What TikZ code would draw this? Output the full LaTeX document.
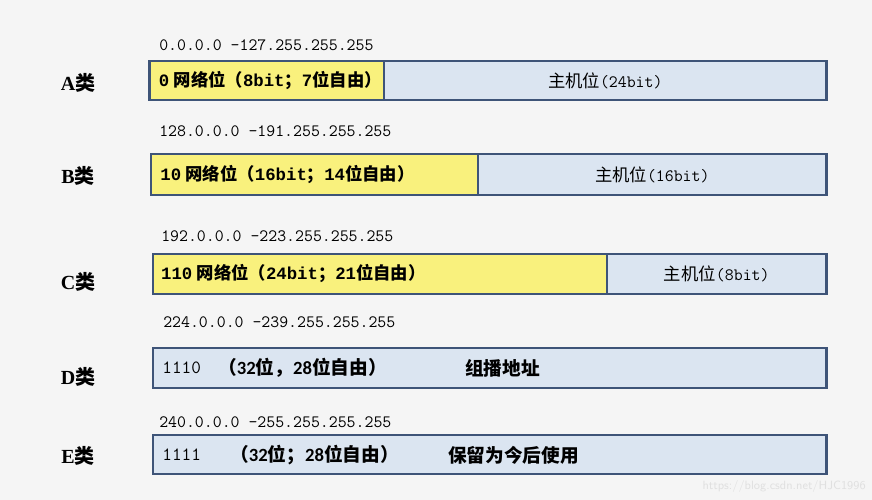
\documentclass[tikz,border=0pt]{standalone}
\usepackage{fontspec}
\setmainfont{Liberation Serif}
\newfontfamily\cjk{Noto Sans CJK SC}
\newfontfamily\bmono{Liberation Mono}
\newfontfamily\calib{Carlito}
\usetikzlibrary{positioning,fit}

\definecolor{bgcol}{HTML}{F5F5F5}
\definecolor{edgecol}{HTML}{3E5478}
\definecolor{netcol}{HTML}{F9F17D}
\definecolor{hostcol}{HTML}{DBE5F1}

\newcommand\zh[1]{{\cjk #1}}
\newcommand\la[1]{{\ttfamily #1}}
\newcommand\bl[1]{{\bmono #1}}
\newcommand\nb[1]{{\calib #1}}

\begin{document}
\begin{tikzpicture}[x=0.75pt,y=-0.75pt]
\tikzset{
    net/.style={rectangle, draw=edgecol, line width=2.2pt, fill=netcol, inner sep=0pt},
    host/.style={rectangle, draw=edgecol, line width=2.2pt, fill=hostcol, inner sep=0pt},
    cls/.style={inner sep=0pt, font=\fontsize{15}{18}\selectfont\bfseries},
    rangetxt/.style={inner sep=0pt, anchor=west, font=\fontsize{13}{15}\selectfont\ttfamily},
    btxt/.style={inner sep=0pt, font=\fontsize{13}{15}\selectfont\bfseries},
    htxt/.style={inner sep=0pt, font=\fontsize{13}{15}\selectfont},
    dtxt/.style={inner sep=0pt, anchor=west, font=\fontsize{14}{16}\selectfont\bfseries}
}
\fill[bgcol] (0,0) rectangle (872,500);
\useasboundingbox (0,0) rectangle (872,500);

% A
\node[rangetxt] (aRange) at (159,45) {0.0.0.0 -127.255.255.255};
\node[cls] (aLab) at (78,83) {A\zh{类}};
\node[net, fit={(149.5,61) (384,100)}] (aNet) {};
\node[host, fit={(384,61) (826.5,100)}] (aHost) {};
\node[btxt, right=8pt of aNet.west] (aNetTxt) {\bl{0} \zh{网络位（}\bl{8bit}\zh{；}\bl{7}\zh{位自由）}};
\node[htxt] (aHostTxt) at (aHost) {\zh{主机位}\la{(24bit)}};

% B
\node[rangetxt] (bRange) at (159,131) {128.0.0.0 -191.255.255.255};
\node[cls] (bLab) at (78,176) {B\zh{类}};
\node[net, fit={(151,154) (478,195)}] (bNet) {};
\node[host, fit={(478,154) (826.5,195)}] (bHost) {};
\node[btxt, right=8pt of bNet.west] (bNetTxt) {\bl{10} \zh{网络位（}\bl{16bit}\zh{；}\bl{14}\zh{位自由）}};
\node[htxt] (bHostTxt) at (bHost) {\zh{主机位}\la{(16bit)}};

% C
\node[rangetxt] (cRange) at (161,236) {192.0.0.0 -223.255.255.255};
\node[cls] (cLab) at (78,282) {C\zh{类}};
\node[net, fit={(153,254) (607,294)}] (cNet) {};
\node[host, fit={(607,254) (826.5,294)}] (cHost) {};
\node[btxt, right=7pt of cNet.west] (cNetTxt) {\bl{110} \zh{网络位（}\bl{24bit}\zh{；}\bl{21}\zh{位自由）}};
\node[htxt] (cHostTxt) at (cHost) {\zh{主机位}\la{(8bit)}};

% D
\node[rangetxt] (dRange) at (163,322) {224.0.0.0 -239.255.255.255};
\node[cls] (dLab) at (78,377) {D\zh{类}};
\node[host, fit={(153,348) (826.5,388)}] (dBox) {};
\node[htxt, font=\fontsize{14}{16}\selectfont, right=8pt of dBox.west] (dNum) {\la{1110}};
\node[dtxt] (dBits) at (218,368) {\zh{（}\nb{32}\zh{位，}\nb{28}\zh{位自由）}};
\node[dtxt] (dUse) at (465,368) {\zh{组播地址}};

% E
\node[rangetxt] (eRange) at (159,422) {240.0.0.0 -255.255.255.255};
\node[cls] (eLab) at (78,456) {E\zh{类}};
\node[host, fit={(153,435) (826.5,474)}] (eBox) {};
\node[htxt, font=\fontsize{14}{16}\selectfont, right=8pt of eBox.west] (eNum) {\la{1111}};
\node[dtxt] (eBits) at (230,455) {\zh{（}\nb{32}\zh{位；}\nb{28}\zh{位自由）}};
\node[dtxt] (eUse) at (448,455) {\zh{保留为今后使用}};

\node[inner sep=0pt, anchor=east, text=black!12, font=\fontsize{9}{10}\selectfont\sffamily] (mark) at (866,486) {https://blog.csdn.net/HJC1996};
\end{tikzpicture}
\end{document}
